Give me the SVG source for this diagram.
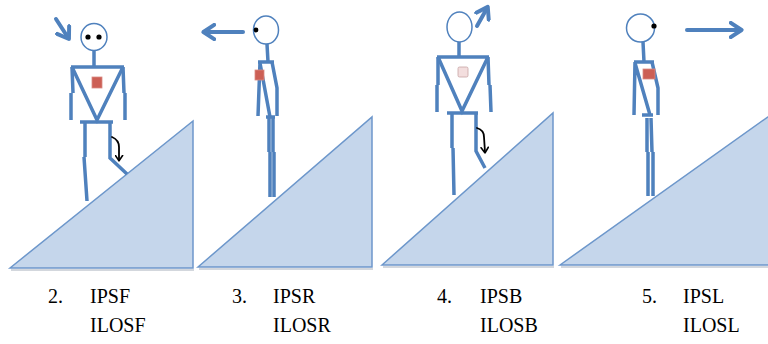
<svg xmlns="http://www.w3.org/2000/svg" width="768" height="344" viewBox="0 0 768 344">
  <defs>
    <marker id="bluehead" viewBox="0 0 10 10" refX="5" refY="5" markerWidth="4.5" markerHeight="4.5" orient="auto" markerUnits="strokeWidth">
      <path d="M1,1 L7,5 L1,9" fill="none" stroke="#4f81bd" stroke-width="2.2" stroke-linecap="round" stroke-linejoin="round"/>
    </marker>
    <marker id="blackhead" viewBox="0 0 10 10" refX="6" refY="5" markerWidth="5" markerHeight="5" orient="auto" markerUnits="strokeWidth">
      <path d="M1,1 L7,5 L1,9" fill="none" stroke="#000" stroke-width="1.8" stroke-linecap="round" stroke-linejoin="round"/>
    </marker>
  </defs>
  <style>
    .slope { fill: #c5d6eb; stroke: #6d97cb; stroke-width: 1.5; }
    .shade { fill: none; stroke: #c4cad2; stroke-width: 1.5; }
    .head { fill: #fff; stroke: #4f81bd; stroke-width: 1.5; }
    .limb { fill: none; stroke: #4f81bd; stroke-width: 3.5; stroke-linecap: butt; stroke-linejoin: miter; }
    .eye { fill: #000; }
    .chest { fill: #cc5f55; stroke: #d98a83; stroke-width: 0.8; }
    .chest-light { fill: #f3dede; stroke: #c7a3a3; stroke-width: 0.8; }
    .gaze { fill: none; stroke: #4f81bd; stroke-width: 4; stroke-linecap: round; }
    .swing { fill: none; stroke: #000; stroke-width: 1.8; stroke-linecap: round; }
    .label { font-size: 20px; fill: #000; }
  </style>

  <!-- ramps -->
  <g id="ramp-2">
    <path class="shade" d="M11,270 L194,270"/>
    <polygon class="slope" points="10,268 193,121 193,268"/>
  </g>
  <g id="ramp-3">
    <path class="shade" d="M199,269 L373,269"/>
    <polygon class="slope" points="198,267 372,117 372,267"/>
  </g>
  <g id="ramp-4">
    <path class="shade" d="M383,267 L554,267"/>
    <polygon class="slope" points="382,265 553,113 553,265"/>
  </g>
  <g id="ramp-5">
    <path class="shade" d="M561,267 L800,267"/>
    <polygon class="slope" points="560,265 800,94 800,265"/>
  </g>

  <!-- figure 2: facing forward -->
  <g id="figure-2">
    <ellipse class="head" cx="94" cy="37" rx="13" ry="13.5"/>
    <circle class="eye" cx="88" cy="37" r="2.6"/>
    <circle class="eye" cx="99" cy="37" r="2.6"/>
    <path class="limb" d="M94,50 L94,67 M71,67 L124,67 M72,67 L97,120 L123,67"/>
    <path class="limb" d="M72,67 L73,93 M71,93 L71,120 M123,67 L124,93 M125,93 L125,120"/>
    <path class="limb" d="M80,122 L113,122"/>
    <path class="limb" d="M85,123 L85,157 M84,157 L87,201"/>
    <path class="limb" d="M110,123 L110,158 L127,174"/>
    <rect class="chest" x="92" y="77" width="10" height="11"/>
    <path class="swing" d="M112,137 Q119,140 119,147 L119,160" marker-end="url(#blackhead)"/>
  </g>

  <!-- figure 3: side view, looking left -->
  <g id="figure-3">
    <ellipse class="head" cx="266" cy="30" rx="12.5" ry="14"/>
    <circle class="eye" cx="256" cy="30" r="2.4"/>
    <path class="limb" d="M267,44 L268,62 M258,62 L274,62"/>
    <path class="limb" d="M260,62 L258,116 M272,62 L277,88 L277,116 M260,63 L270,117"/>
    <path class="limb" d="M266,117 L275,117"/>
    <path class="limb" d="M269,118 L269,152 M270,152 L270,197 M273,118 L273,152 M274,152 L274,197"/>
    <rect class="chest" x="255" y="70" width="9" height="10"/>
  </g>

  <!-- figure 4: facing backward -->
  <g id="figure-4">
    <ellipse class="head" cx="459.5" cy="27" rx="12.5" ry="15"/>
    <path class="limb" d="M459,42 L459,57 M437,57 L489,57 M438,57 L462,111 L488,57"/>
    <path class="limb" d="M438,57 L438,85 M437,85 L437,112 M488,57 L489,85 M490,85 L491,112"/>
    <path class="limb" d="M447,113 L478,113"/>
    <path class="limb" d="M452,114 L452,148 M453,148 L454,195"/>
    <path class="limb" d="M476,114 L476,151 L485,168"/>
    <rect class="chest-light" x="458" y="67" width="10" height="10" rx="1.5"/>
    <path class="swing" d="M477,128 Q484,130 484,137 L485,152" marker-end="url(#blackhead)"/>
  </g>

  <!-- figure 5: side view, looking right -->
  <g id="figure-5">
    <ellipse class="head" cx="640.5" cy="28" rx="14" ry="14"/>
    <circle class="eye" cx="654" cy="26" r="2.6"/>
    <path class="limb" d="M643,42 L644,62 M634,62 L654,62"/>
    <path class="limb" d="M635,62 L634,115 M652,62 L658,88 L658,115 M635,63 L650,115"/>
    <path class="limb" d="M642,115 L653,115"/>
    <path class="limb" d="M647,118 L647,152 M648,152 L648,196 M651,118 L652,152 M653,152 L653,196"/>
    <rect class="chest" x="643" y="69" width="12" height="10"/>
  </g>

  <!-- gaze direction arrows -->
  <g id="connectors">
    <path class="gaze" d="M56,19 L67,36" marker-end="url(#bluehead)"/>
    <path class="gaze" d="M243,32 L207,32" marker-end="url(#bluehead)"/>
    <path class="gaze" d="M477,26 L486,10" marker-end="url(#bluehead)"/>
    <path class="gaze" d="M687,30 L738,30" marker-end="url(#bluehead)"/>
  </g>

  <!-- captions -->
  <g id="captions" font-family="Liberation Serif, Times New Roman, DejaVu Serif, serif">
    <g id="caption-2">
      <text class="label" x="48" y="303">2.</text>
      <text class="label" x="90" y="303">IPSF</text>
      <text class="label" x="90" y="332">ILOSF</text>
    </g>
    <g id="caption-3">
      <text class="label" x="232" y="303">3.</text>
      <text class="label" x="273" y="303">IPSR</text>
      <text class="label" x="273" y="332">ILOSR</text>
    </g>
    <g id="caption-4">
      <text class="label" x="437" y="303">4.</text>
      <text class="label" x="480" y="303">IPSB</text>
      <text class="label" x="480" y="332">ILOSB</text>
    </g>
    <g id="caption-5">
      <text class="label" x="642" y="303">5.</text>
      <text class="label" x="683" y="303">IPSL</text>
      <text class="label" x="683" y="332">ILOSL</text>
    </g>
  </g>
</svg>
